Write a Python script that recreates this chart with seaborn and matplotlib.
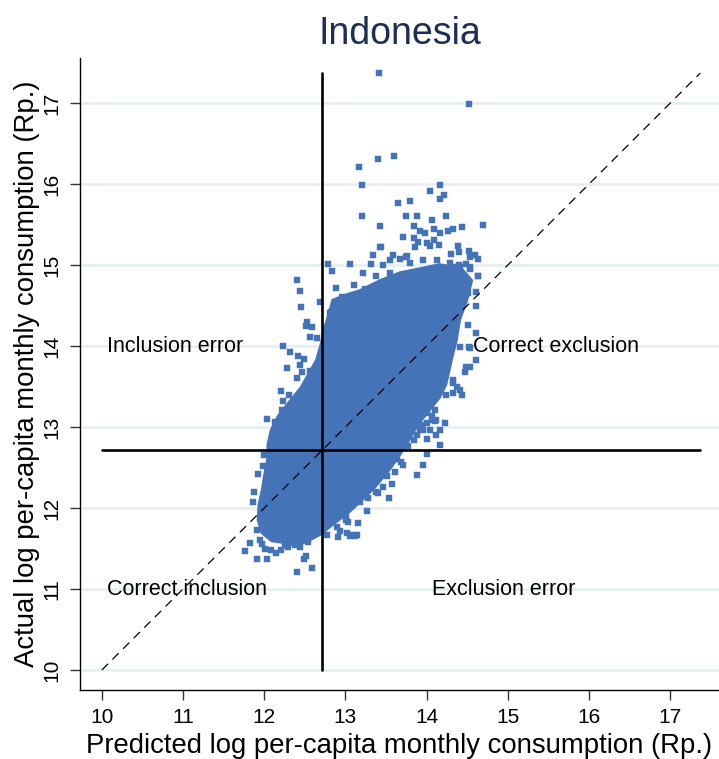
import matplotlib
matplotlib.use("Agg")
import matplotlib.pyplot as plt
import seaborn as sns
import pandas as pd

# ---- data -----------------------------------------------------------------
# Outline of the dense core of the household cloud (predicted, actual)
core_x = [12.77, 12.84, 12.99, 13.18, 13.42, 13.67, 13.92, 14.16, 14.43, 14.56,
          14.50, 14.41, 14.37, 14.31, 14.24, 14.16, 14.04, 13.89, 13.77, 13.65,
          13.52, 13.36, 13.21, 13.05, 12.84, 12.71, 12.56, 12.40, 12.23, 12.09,
          11.97, 11.92, 11.93, 11.97, 12.00, 12.04, 12.04, 12.08, 12.17, 12.32,
          12.45, 12.55, 12.64, 12.70, 12.73]
core_y = [14.32, 14.57, 14.63, 14.69, 14.81, 14.91, 14.96, 15.01, 14.96, 14.81,
          14.57, 14.32, 14.07, 13.83, 13.52, 13.36, 13.21, 13.02, 12.81, 12.62,
          12.44, 12.25, 12.10, 11.95, 11.79, 11.68, 11.60, 11.53, 11.57, 11.59,
          11.69, 11.85, 12.04, 12.22, 12.41, 12.62, 12.78, 12.96, 13.14, 13.33,
          13.49, 13.67, 13.83, 14.04, 14.20]

# Individual households outside the dense core
pred = [13.41, 14.52, 13.40, 13.60, 13.17, 13.21, 14.16, 14.04, 14.21, 14.16,
        13.65, 13.80, 13.21, 13.74, 13.88, 14.24, 14.06, 13.42, 13.85, 14.43,
        14.70, 14.33, 13.92, 13.98, 14.09, 14.17, 14.26, 13.71, 13.85, 13.89,
        14.09, 14.00, 14.04, 14.15, 13.86, 14.39, 14.30, 14.40, 14.52, 14.59,
        14.63, 14.53, 13.59, 13.74, 13.55, 13.44, 14.48, 14.53, 14.63, 14.40,
        14.32, 14.29, 12.40, 12.44, 12.45, 12.79, 12.83, 13.05, 12.88, 13.22,
        13.34, 13.43, 13.11, 12.96, 13.24, 12.69, 13.67, 13.76, 12.53, 12.52,
        12.59, 12.56, 12.65, 12.77, 12.81, 12.86, 12.89, 12.82, 12.86, 12.91,
        12.23, 12.32, 12.41, 12.49, 12.28, 12.44, 12.47, 12.56, 12.40, 12.53,
        12.21, 12.31, 12.23, 12.22, 12.04, 12.13, 12.00, 11.99, 11.92, 11.88,
        11.86, 11.91, 11.83, 11.76, 11.95, 11.97, 12.01, 12.08, 11.91, 12.03,
        12.15, 12.21, 12.25, 12.29, 12.38, 12.44, 12.52, 12.49, 12.59, 12.40,
        12.54, 12.77, 12.89, 12.91, 13.01, 13.02, 13.14, 13.16, 13.05, 13.12,
        13.26, 13.54, 13.38, 13.61, 13.71, 13.88, 13.95, 14.00, 14.16, 14.12,
        14.00, 14.22, 14.16, 14.43, 14.33, 14.53, 14.61, 14.53, 14.51, 14.61,
        14.61, 14.41, 13.57, 13.40, 14.10, 14.12, 13.92, 14.04, 14.52, 14.48,
        14.47, 14.33, 14.37, 14.41, 14.49, 13.32, 13.46, 13.55, 13.79, 13.95,
        14.13, 14.29, 14.41, 14.53, 14.63, 13.38, 13.30, 13.14, 13.01, 12.89,
        12.81, 14.51, 14.45, 14.37, 14.61,
        14.07, 14.01, 13.96, 13.85, 13.77, 13.69, 13.63, 13.51, 13.46, 13.34,
        13.28, 13.18, 13.01, 13.03, 12.93, 13.09, 14.12, 14.16, 14.24, 14.33,
        14.00, 14.06, 14.10, 13.94, 13.81, 13.88]
actual = [17.37, 16.99, 16.31, 16.35, 16.21, 15.99, 15.99, 15.91, 15.86, 15.81,
          15.76, 15.79, 15.60, 15.61, 15.61, 15.61, 15.56, 15.48, 15.48, 15.47,
          15.49, 15.45, 15.42, 15.39, 15.45, 15.40, 15.42, 15.35, 15.33, 15.29,
          15.31, 15.27, 15.23, 15.25, 15.22, 15.24, 15.13, 15.16, 15.17, 15.12,
          15.07, 15.10, 15.12, 15.10, 15.06, 15.22, 15.01, 14.95, 14.87, 15.00,
          14.98, 14.86, 14.81, 14.68, 14.48, 15.01, 14.93, 15.01, 14.72, 14.90,
          15.12, 15.22, 14.75, 14.60, 14.70, 14.54, 15.07, 15.11, 14.30, 14.25,
          14.23, 14.11, 14.10, 14.19, 14.32, 14.29, 14.29, 14.42, 14.42, 14.53,
          14.00, 13.93, 13.88, 13.84, 13.73, 13.76, 13.68, 13.69, 13.60, 13.52,
          13.45, 13.39, 13.32, 13.21, 13.10, 13.06, 12.65, 12.52, 12.42, 12.20,
          12.07, 11.73, 11.57, 11.47, 11.60, 11.56, 11.49, 11.48, 11.37, 11.37,
          11.45, 11.48, 11.54, 11.52, 11.54, 11.52, 11.41, 11.37, 11.26, 11.21,
          11.58, 11.67, 11.77, 11.64, 11.85, 11.69, 11.67, 11.82, 11.65, 11.65,
          11.96, 12.12, 12.20, 12.45, 12.53, 12.41, 12.53, 12.67, 12.78, 12.90,
          12.85, 13.05, 12.96, 13.40, 13.54, 13.74, 13.83, 13.97, 14.26, 14.16,
          14.49, 13.99, 12.30, 12.18, 13.21, 13.09, 12.98, 12.96, 13.99, 13.74,
          13.68, 13.58, 13.50, 13.46, 14.73, 15.01, 15.00, 14.90, 15.02, 15.06,
          15.06, 15.02, 14.98, 14.98, 14.86, 14.86, 14.69, 14.57, 14.49, 14.44,
          14.41, 14.65, 14.73, 14.77, 14.67,
          13.09, 13.05, 12.96, 12.84, 12.76, 12.57, 12.61, 12.39, 12.26, 12.30,
          12.12, 12.08, 11.89, 11.83, 11.71, 11.67, 13.46, 13.50, 13.40, 13.42,
          13.17, 13.13, 13.07, 13.02, 12.96, 12.90]

cutoff = 12.71
y_ticks = [10, 11, 12, 13, 14, 15, 16, 17]
x_ticks = [10, 11, 12, 13, 14, 15, 16, 17]
quadrant_labels = ["Inclusion error", "Correct exclusion", "Correct inclusion", "Exclusion error"]
quadrant_x = [10.06, 14.57, 10.06, 14.06]
quadrant_y = [14.0, 14.0, 11.0, 11.0]

title = "Indonesia"
xlabel = "Predicted log per-capita monthly consumption (Rp.)"
ylabel = "Actual log per-capita monthly consumption (Rp.)"

# ---- style ----------------------------------------------------------------
sns.set_theme(style="white")
plt.rcParams["font.family"] = ["Liberation Sans", "DejaVu Sans"]

blue = "#4573b8"
grid_col = "#e6eff1"

fig = plt.figure(figsize=(7.19, 7.59), dpi=100)
ax = fig.add_axes([0.111, 0.0909, 0.889, 0.8327])

lo, hi = 10.0, max(actual)

# horizontal grid
for t in y_ticks:
    ax.axhline(t, color=grid_col, lw=2.0, zorder=0)

# dense core and scattered households
ax.fill(core_x, core_y, color=blue, lw=1.5, ec=blue, zorder=2)
df = pd.DataFrame({"pred": pred, "actual": actual})
sns.scatterplot(data=df, x="pred", y="actual", ax=ax, marker="s", s=22,
                color=blue, edgecolor=blue, linewidth=0.3, zorder=3)

# 45-degree line and targeting cutoffs
ax.plot([lo, hi], [lo, hi], color="black", lw=0.9, ls=(0, (7, 5)), zorder=4)
ax.plot([cutoff, cutoff], [lo, hi], color="black", lw=1.9, zorder=5)
ax.plot([lo, hi], [cutoff, cutoff], color="black", lw=1.9, zorder=5)

for lab, x, y in zip(quadrant_labels, quadrant_x, quadrant_y):
    ax.text(x, y, lab, fontsize=15.5, ha="left", va="center", color="black", zorder=6)

ax.set_xlim(9.729, 17.60)
ax.set_ylim(9.753, 17.556)
ax.set_xticks(x_ticks)
ax.set_yticks(y_ticks)
ax.set_xticklabels([str(t) for t in x_ticks], fontsize=15)
ax.set_yticklabels([str(t) for t in y_ticks], fontsize=15, rotation=90, va="center")
ax.tick_params(axis="both", direction="out", length=7, width=1.0, color="#333333",
               labelcolor="black", bottom=True, left=True, pad=6)

for side in ["top", "right"]:
    ax.spines[side].set_visible(False)
for side in ["left", "bottom"]:
    ax.spines[side].set_color("black")
    ax.spines[side].set_linewidth(1.0)

ax.set_xlabel(xlabel, fontsize=19.8, labelpad=4, color="black")
ax.set_ylabel(ylabel, fontsize=19.8, labelpad=2, color="black")
ax.set_title(title, fontsize=27, color="#1e2d56", pad=10)

fig.savefig("out.png", dpi=100)
